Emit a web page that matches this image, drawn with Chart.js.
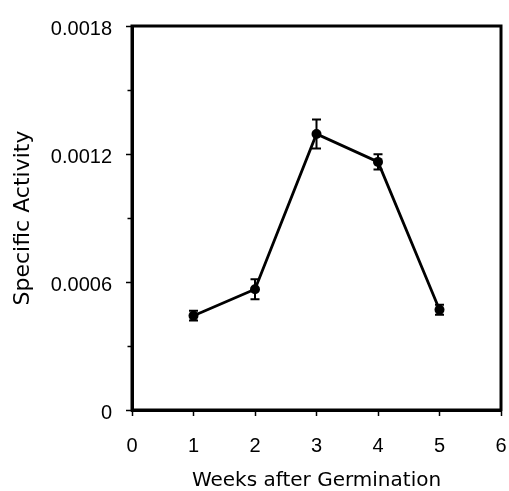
<!DOCTYPE html>
<html><head><meta charset="utf-8">
<script src="https://cdn.jsdelivr.net/npm/chart.js@4.4.0/dist/chart.umd.min.js"></script>
<style>html,body{margin:0;padding:0;background:#fff;}canvas{display:block}</style>
</head><body>
<canvas id="c" width="509" height="491"></canvas>
<script>
const weeks = [1, 2, 3, 4, 5];
const activity = [0.000442, 0.000566, 0.001294, 0.001163, 0.00047];
const errors = [0.000023, 0.000047, 0.000068, 0.000036, 0.000023];
const xTickValues = [0, 1, 2, 3, 4, 5, 6];
const yTickLabels = ['0', '0.0006', '0.0012', '0.0018'];
const yMajorStep = 0.0006;
const yMinorStep = 0.0003;

function isMajor(v) {
  const k = v / yMajorStep;
  return Math.abs(k - Math.round(k)) < 1e-6;
}

const framePlugin = {
  id: 'frame',
  afterDraw(chart) {
    const {ctx, chartArea: a} = chart;
    ctx.save();
    ctx.strokeStyle = '#000';
    ctx.lineWidth = 3;
    ctx.strokeRect(a.left, a.top, a.right - a.left, a.bottom - a.top);
    // minor ticks on y axis
    const ys = chart.scales.y;
    ctx.lineWidth = 1.5;
    ys.ticks.forEach(t => {
      if (!isMajor(t.value)) {
        const py = Math.round(ys.getPixelForValue(t.value)) + 0.5;
        ctx.beginPath();
        ctx.moveTo(a.left - 1, py);
        ctx.lineTo(a.left - 4.5, py);
        ctx.stroke();
      }
    });
    ctx.restore();
  }
};

const errorBarPlugin = {
  id: 'errorBars',
  afterDatasetsDraw(chart) {
    const {ctx} = chart;
    const xs = chart.scales.x, ys = chart.scales.y;
    ctx.save();
    ctx.strokeStyle = '#000';
    ctx.lineWidth = 2;
    weeks.forEach((w, i) => {
      const px = xs.getPixelForValue(w);
      const top = ys.getPixelForValue(activity[i] + errors[i]);
      const bot = ys.getPixelForValue(activity[i] - errors[i]);
      const cap = 4.5;
      ctx.beginPath();
      ctx.moveTo(px, top); ctx.lineTo(px, bot);
      ctx.moveTo(px - cap, top); ctx.lineTo(px + cap, top);
      ctx.moveTo(px - cap, bot); ctx.lineTo(px + cap, bot);
      ctx.stroke();
    });
    ctx.restore();
  }
};

const tickFont = {family: '"Liberation Sans", Arial, sans-serif', size: 20};

new Chart(document.getElementById('c'), {
  type: 'line',
  data: {
    datasets: [{
      data: weeks.map((w, i) => ({x: w, y: activity[i]})),
      borderColor: '#000',
      borderWidth: 2.8,
      pointRadius: 5,
      pointBackgroundColor: '#000',
      pointBorderColor: '#000',
      pointBorderWidth: 0,
      tension: 0,
      fill: false
    }]
  },
  options: {
    responsive: false,
    animation: false,
    devicePixelRatio: 1,
    layout: {padding: {top: 23, right: 8, left: 0, bottom: 0}},
    plugins: {legend: {display: false}, tooltip: {enabled: false}},
    scales: {
      x: {
        type: 'linear',
        min: 0, max: 6,
        afterBuildTicks(scale) { scale.ticks = xTickValues.map(v => ({value: v})); },
        afterFit(scale) { scale.height = 81; scale.paddingRight = 6; scale.paddingLeft = 6; },
        ticks: {color: '#000', font: tickFont, padding: 18, stepSize: 1,
          callback: v => String(v)},
        grid: {drawOnChartArea: false, drawTicks: true, tickLength: 6, tickWidth: 1.5, tickColor: '#000'},
        border: {display: true, color: '#000', width: 3},
        title: {display: true, text: 'Weeks after Germination', color: '#000',
          font: {family: '"DejaVu Sans", sans-serif', size: 20, lineHeight: 1},
          padding: {top: 0, bottom: 0}}
      },
      y: {
        type: 'linear',
        min: 0, max: 0.0018,
        afterFit(scale) { scale.width = 132; },
        ticks: {color: '#000', font: tickFont, padding: 14, stepSize: yMinorStep, labelOffset: 3,
          callback: v => isMajor(v) ? yTickLabels[Math.round(v / yMajorStep)] : ''},
        grid: {drawOnChartArea: false, drawTicks: true, tickLength: 6, tickWidth: 1.5,
          tickColor: ctx => (ctx.tick && isMajor(ctx.tick.value)) ? '#000' : 'rgba(0,0,0,0)'},
        border: {display: true, color: '#000', width: 3},
        title: {display: true, text: 'Specific Activity', color: '#000',
          font: {family: '"DejaVu Sans", sans-serif', size: 22, lineHeight: 1},
          padding: {top: 12, bottom: 0}}
      }
    }
  },
  plugins: [framePlugin, errorBarPlugin]
});
</script>
</body></html>
